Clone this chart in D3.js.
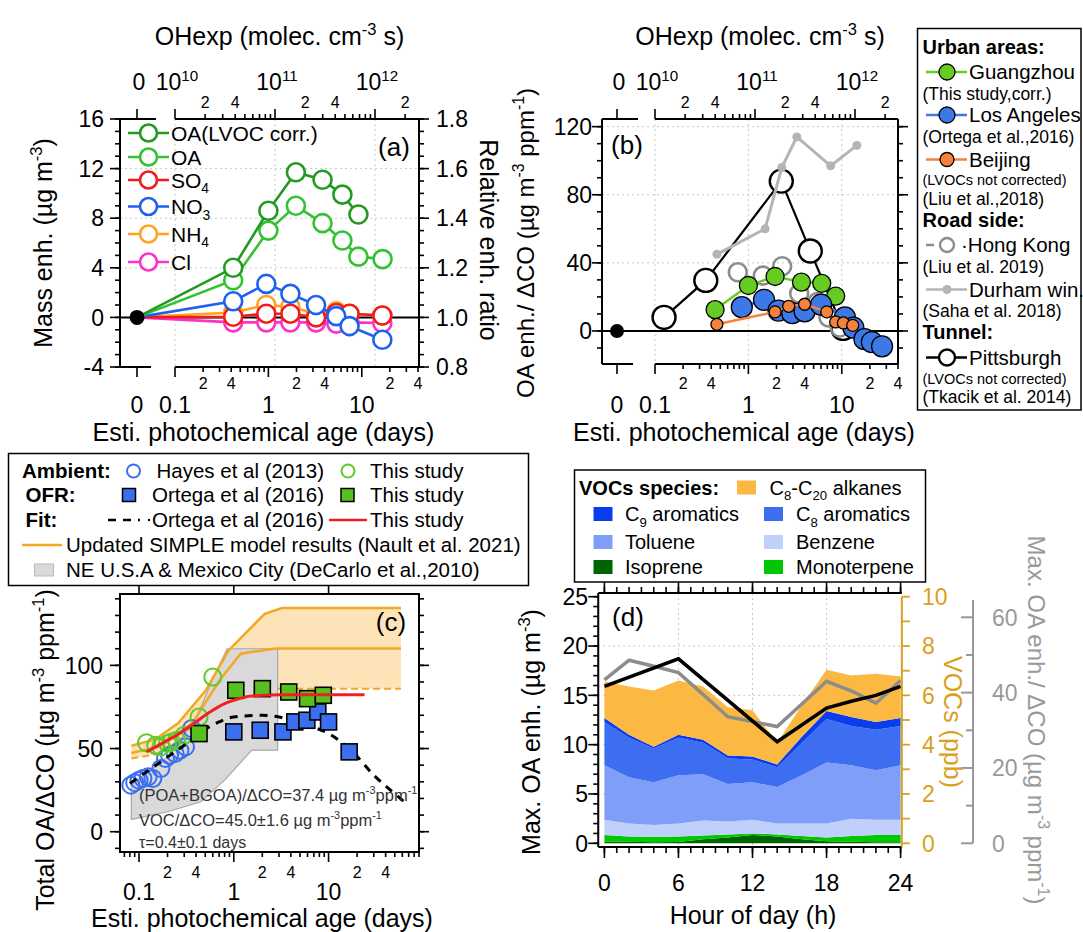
<!DOCTYPE html>
<html>
<head>
<meta charset="utf-8">
<script src="https://cdn.jsdelivr.net/npm/d3@7"></script>
<style>
  body { margin: 0; background: #fff; }
  svg { font-family: "Liberation Sans", Arial, Helvetica, sans-serif; }
</style>
</head>
<body>
<svg id="fig" width="1083" height="932"></svg>
<script>
// ---------- (a) mass enhancement vs photochemical age ----------
const oaLvocAge = [0, 0.42, 1.0, 1.97, 3.8, 6.2, 9.2];
const oaLvocEnh = [0, 4.0, 8.6, 11.7, 11.1, 9.9, 8.3];
const oaAge = [0, 0.42, 1.0, 1.97, 3.8, 6.2, 9.2, 16.7];
const oaEnh = [0, 3.0, 7.0, 9.0, 7.6, 6.2, 4.9, 4.7];
const ionAge = [0, 0.42, 0.95, 1.72, 3.24, 5.34, 7.4, 16.6];
const no3Enh = [0, 1.3, 2.7, 1.9, 1.0, 0.1, -0.7, -1.8];
const so4Enh = [0, 0.05, 0.3, 0.3, 0.0, 0.35, 0.3, 0.15];
const nh4Enh = [0, 0.4, 1.0, 0.85, 0.3, 0.5, 0.3, 0.15];
const clEnh = [0, -0.4, -0.4, -0.4, -0.4, -0.5, -0.4, -0.45];

// ---------- (b) OA enh./dCO for several sites ----------
const gzAge = [0.44, 1.0, 1.93, 3.7, 6.1, 8.6];
const gzRatio = [12.5, 26.7, 32, 28.7, 28, 20.5];
const laAge = [0.85, 1.47, 2.1, 2.95, 4.0, 6.0, 10.8, 13.3, 17.5, 21, 27];
const laRatio = [14, 18.3, 12, 10.5, 11.5, 15.5, 8, 2, -4.8, -6.5, -9];
const bjAge = [0.46, 1.93, 2.7, 4.0, 6.9, 8.6, 10.4, 13.1];
const bjRatio = [3.9, 11.2, 14.5, 15.7, 11.2, 5.3, 4.7, 3.3];
const hkAge = [0.77, 1.43, 2.3, 3.5, 5.5, 7.2, 9.5];
const hkRatio = [34.5, 32.5, 38, 22, 17, 8, 2];
const durAge = [0.46, 1.51, 2.28, 3.3, 7.6, 14.5];
const durRatio = [45, 60, 96, 114, 97, 109];
const pitAge = [0.125, 0.35, 2.25, 4.6, 10.3];
const pitRatio = [8, 29.7, 88, 47, 1.5];

// ---------- (c) total OA/dCO ----------
const hayesAge = [0.082, 0.09, 0.1, 0.11, 0.125, 0.14, 0.17, 0.19, 0.21, 0.24, 0.27, 0.31, 0.36];
const hayesRatio = [28, 29.5, 31, 32, 33, 32, 38, 44, 46, 47, 49, 51, 62];
const ambAge = [0.12, 0.15, 0.17, 0.2, 0.22, 0.25, 0.3, 0.43, 0.6];
const ambRatio = [53.5, 52, 51, 53, 54, 55, 58, 69, 93];
const ortegaAge = [1.0, 1.9, 3.3, 4.4, 5.9, 7.7, 10, 16.5];
const ortegaRatio = [60, 61, 60, 66, 67, 72, 66, 48];
const ofrAge = [0.43, 1.05, 2.0, 3.8, 6.0, 8.8];
const ofrRatio = [59, 85, 86, 84, 80, 82];
const fitAge = [0.12, 0.15, 0.2, 0.25, 0.3, 0.4, 0.5, 0.6, 0.8, 1, 1.5, 2, 3, 24];
const fitRatio = [48, 51, 55, 58, 61, 66, 70, 73, 77, 79, 81.5, 82, 82.4, 82.4];
const ortegaFitAge = [0.08, 0.12, 0.19, 0.3, 0.45, 0.7, 1, 2, 3, 5, 10, 18, 30, 45, 66];
const ortegaFitRatio = [29, 36, 44, 52, 60, 66, 69, 70, 69, 65, 59, 48, 34, 25, 17];
const simpleHighAge = [0.083, 0.146, 0.26, 0.51, 0.88, 2.12, 3.23, 58];
const simpleHigh = [51.7, 55.3, 65.3, 85.2, 109, 131, 134.5, 134.5];
const simpleMidAge = [0.083, 0.17, 0.365, 0.71, 1.18, 2.73, 58];
const simpleMid = [47.3, 51.3, 65.3, 91, 107, 110.2, 110.2];
const simpleLowAge = [0.083, 0.17, 0.35, 0.7, 1.2, 2.9, 58];
const simpleLow = [44, 47, 58, 76, 84, 86, 86];
const decarloHighAge = [0.083, 0.2, 0.4, 0.6, 0.85, 2.9];
const decarloHigh = [28, 45, 68, 92, 110, 110];
const decarloLowAge = [0.083, 0.2, 0.45, 0.8, 1.55, 2.9];
const decarloLow = [7.4, 12, 18, 31, 49, 49];

// ---------- (d) diurnal ----------
const hours = [0, 2, 4, 6, 8, 10, 12, 14, 16, 18, 20, 22, 24];
const vocSpecies = ["Isoprene", "Monoterpene", "Benzene", "Toluene", "C8 aromatics", "C9 aromatics", "C8-C20 alkanes"];
const isoprene = [0.07, 0.06, 0.04, 0.05, 0.16, 0.24, 0.34, 0.28, 0.16, 0.08, 0.06, 0.04, 0.04];
const monoterpene = [0.27, 0.22, 0.22, 0.23, 0.16, 0.12, 0.06, 0.08, 0.14, 0.16, 0.24, 0.3, 0.3];
const benzene = [0.62, 0.52, 0.48, 0.52, 0.6, 0.52, 0.56, 0.44, 0.5, 0.56, 0.7, 0.62, 0.62];
const toluene = [2.2, 1.88, 1.74, 1.96, 1.88, 1.52, 1.52, 1.48, 1.96, 2.48, 2.16, 2.0, 2.2];
const c8Arom = [1.76, 1.6, 1.36, 1.52, 1.28, 1.04, 0.92, 0.8, 1.32, 1.76, 1.6, 1.64, 1.6];
const c9Arom = [0.16, 0.12, 0.08, 0.12, 0.12, 0.12, 0.12, 0.12, 0.24, 0.32, 0.36, 0.32, 0.32];
const alkanes = [1.48, 1.96, 2.28, 2.2, 2.16, 1.96, 1.88, 0.88, 1.28, 1.68, 1.68, 1.96, 1.68];
const maxOaHours = [0, 6, 14, 18, 20, 22, 24];
const maxOaEnh = [15.9, 18.7, 10.3, 13.7, 14.4, 15.0, 15.9];
const maxOaRatio = [43.4, 48.6, 47.0, 45.3, 39.5, 33.6, 32.3, 31.0, 37.0, 43.0, 40.5, 37.2, 43.2];

// ---------- tick values ----------
const ageMajor = [0.1, 1, 10];
const ageMinorLabels = [0.2, 0.4, 2, 4, 20, 40];
const ohMajor = [1e10, 1e11, 1e12];
const ohMinorLabels = [2e10, 4e10, 2e11, 4e11, 2e12];

const svg = d3.select("#fig");
svg.append("rect").attr("width", 1083).attr("height", 932).attr("fill", "#fff");

function logMinor(lo, hi) {
  const out = [];
  for (let e = Math.floor(Math.log10(lo)); e <= Math.ceil(Math.log10(hi)); e++)
    for (let m = 2; m <= 9; m++) {
      const v = m * Math.pow(10, e);
      if (v >= lo * 0.999 && v <= hi * 1.001) out.push(v);
    }
  return out;
}

// text with sub/superscripts; y is the visual centre
function rich(g, x, y, parts, size, o = {}) {
  const t = g.append("text").attr("x", x).attr("y", y + 0.36 * size)
    .attr("font-size", size).attr("text-anchor", o.anchor || "start")
    .attr("fill", o.fill || "#000");
  if (o.bold) t.attr("font-weight", "bold");
  if (o.rotate) t.attr("transform", `rotate(${o.rotate},${x},${y})`);
  let shift = 0;
  parts.forEach(p => {
    const [s, type] = Array.isArray(p) ? p : [p, null];
    const target = type === "sup" ? -0.42 * size : type === "sub" ? 0.28 * size : 0;
    const ts = t.append("tspan").text(s);
    if (target !== shift) ts.attr("dy", target - shift);
    if (type) ts.attr("font-size", size * 0.66);
    shift = target;
  });
  return t;
}

function tickLines(g, scale, vals, orient, at, len, color = "#000", w = 1.6) {
  g.selectAll(null).data(vals).join("line")
    .attr("x1", d => orient === "left" || orient === "right" ? at : scale(d))
    .attr("x2", d => orient === "left" ? at - len : orient === "right" ? at + len : scale(d))
    .attr("y1", d => orient === "top" || orient === "bottom" ? at : scale(d))
    .attr("y2", d => orient === "top" ? at - len : orient === "bottom" ? at + len : scale(d))
    .attr("stroke", color).attr("stroke-width", w);
}

function hline(g, x1, x2, y, color = "#000", w = 2) {
  return g.append("line").attr("x1", x1).attr("x2", x2).attr("y1", y).attr("y2", y)
    .attr("stroke", color).attr("stroke-width", w);
}
function vline(g, x, y1, y2, color = "#000", w = 2) {
  return g.append("line").attr("x1", x).attr("x2", x).attr("y1", y1).attr("y2", y2)
    .attr("stroke", color).attr("stroke-width", w);
}

const supExp = v => Math.round(Math.log10(v)).toString();
const TITLE = 25;

// broken log axis (0 + log part) shared by (a) and (b)
function ageAxes(g, P, xs, ohs) {
  // top OH exposure axis
  hline(g, P.left, P.left + 36, P.top);
  hline(g, P.logL, P.right, P.top);
  vline(g, P.zeroX, P.top, P.top - 10, "#000", 1.6);
  tickLines(g, ohs, ohMajor.filter(v => ohs(v) <= P.right + 1), "top", P.top, 10);
  tickLines(g, ohs, logMinor(1e10, ohs.domain()[1]), "top", P.top, 5);
  rich(g, P.zeroX + 2, 82, ["0"], 23, {anchor: "middle"});
  ohMajor.forEach(v => rich(g, ohs(v) + 2, 82, ["10", [supExp(v), "sup"]], 23, {anchor: "middle"}));
  ohMinorLabels.filter(v => ohs(v) <= P.right + 1).forEach(v =>
    rich(g, ohs(v), 102, [String(v / Math.pow(10, Math.floor(Math.log10(v))))], 16, {anchor: "middle"}));
  // bottom age axis
  hline(g, P.left, P.left + 31, P.bottom);
  hline(g, P.logL, P.right, P.bottom);
  vline(g, P.zeroX, P.bottom, P.bottom + 10, "#000", 1.6);
  tickLines(g, xs, ageMajor, "bottom", P.bottom, 10);
  tickLines(g, xs, logMinor(0.1, xs.domain()[1]), "bottom", P.bottom, 5);
  rich(g, P.zeroX, 405, ["0"], 23, {anchor: "middle"});
  ageMajor.forEach(v => rich(g, xs(v), 405, [String(v)], 23, {anchor: "middle"}));
  ageMinorLabels.filter(v => xs(v) <= P.right + 2).forEach(v =>
    rich(g, xs(v), 383, [String(v / Math.pow(10, Math.floor(Math.log10(v))))], 16, {anchor: "middle"}));
  rich(g, (P.left + P.right) / 2 - 6, 432, ["Esti. photochemical age (days)"], TITLE, {anchor: "middle"});
  rich(g, (P.left + P.right) / 2 + 10, 36, ["OHexp (molec. cm", ["-3", "sup"], " s)"], TITLE, {anchor: "middle"});
}

// ======================= panel (a) =======================
const A = {left: 120, right: 419, top: 119, bottom: 367, zeroX: 137, logL: 175};
const xA = d3.scaleLog().domain([0.1, 41]).range([A.logL, A.right]);
const ohA = d3.scaleLog().domain([1e10, 1e10 * Math.pow(10, (A.right - A.logL) / 100)]).range([A.logL, A.right]);
const yA = d3.scaleLinear().domain([-4, 16]).range([A.bottom, A.top]);
const ratioA = d3.scaleLinear().domain([0.8, 1.8]).range([A.bottom, A.top]);
const pxA = d => d === 0 ? A.zeroX : xA(d);
const gA = svg.append("g");

[4, 8, 12].forEach(v => hline(gA, A.left, A.right, yA(v), "#c8c8c8", 1).attr("stroke-dasharray", "2,3"));
ohMajor.forEach(v => vline(gA, ohA(v), A.top, A.bottom, "#c8c8c8", 1).attr("stroke-dasharray", "2,3"));
hline(gA, A.left, A.right, yA(0), "#000", 2);

vline(gA, A.left, A.top, A.bottom);
vline(gA, A.right, A.top, A.bottom);
tickLines(gA, yA, [-4, 0, 4, 8, 12, 16], "left", A.left, 10);
tickLines(gA, yA, d3.range(-4, 17, 1), "left", A.left, 5);
tickLines(gA, ratioA, [0.8, 1.0, 1.2, 1.4, 1.6, 1.8], "right", A.right, 10);
tickLines(gA, ratioA, d3.range(0.8, 1.801, 0.05), "right", A.right, 5);
[-4, 0, 4, 8, 12, 16].forEach(v => rich(gA, 104, yA(v), [String(v)], 23, {anchor: "end"}));
[0.8, 1.0, 1.2, 1.4, 1.6, 1.8].forEach(v => rich(gA, 436, ratioA(v), [v.toFixed(1)], 23));
ageAxes(gA, A, xA, ohA);
rich(gA, 43, 243, ["Mass enh. (µg m", ["-3", "sup"], ")"], TITLE, {anchor: "middle", rotate: -90});
rich(gA, 489, 240, ["Relative enh. ratio"], TITLE, {anchor: "middle", rotate: 90});
rich(gA, 394, 147, ["(a)"], 26, {anchor: "middle"});

const seriesA = [
  {age: ionAge, val: clEnh, color: "#ff30c8"},
  {age: ionAge, val: nh4Enh, color: "#ffa41c"},
  {age: ionAge, val: so4Enh, color: "#f01c1c"},
  {age: ionAge, val: no3Enh, color: "#2060f0"},
  {age: oaAge, val: oaEnh, color: "#34c234"},
  {age: oaLvocAge, val: oaLvocEnh, color: "#229a22"}
];
seriesA.forEach(s => {
  const pts = s.age.map((a, i) => [pxA(a), yA(s.val[i])]);
  gA.append("path").attr("d", d3.line()(pts)).attr("fill", "none")
    .attr("stroke", s.color).attr("stroke-width", 2.6);
  gA.selectAll(null).data(pts.slice(1)).join("circle")
    .attr("cx", d => d[0]).attr("cy", d => d[1]).attr("r", 9)
    .attr("fill", "#fff").attr("stroke", s.color).attr("stroke-width", 2.6);
});
gA.append("circle").attr("cx", pxA(0)).attr("cy", yA(0)).attr("r", 7.5).attr("fill", "#000");

const legA = [
  {parts: ["OA(LVOC corr.)"], color: "#229a22", y: 133},
  {parts: ["OA"], color: "#34c234", y: 157},
  {parts: ["SO", ["4", "sub"]], color: "#f01c1c", y: 180},
  {parts: ["NO", ["3", "sub"]], color: "#2060f0", y: 206.5},
  {parts: ["NH", ["4", "sub"]], color: "#ffa41c", y: 234},
  {parts: ["Cl"], color: "#ff30c8", y: 262}
];
legA.forEach(l => {
  hline(gA, 128, 169, l.y, l.color, 2.6);
  gA.append("circle").attr("cx", 148.5).attr("cy", l.y).attr("r", 8.5)
    .attr("fill", "#fff").attr("stroke", l.color).attr("stroke-width", 2.6);
  rich(gA, 171, l.y, l.parts, 21);
});

// ======================= panel (b) =======================
const B = {left: 602, right: 898, top: 119, bottom: 364, zeroX: 617, logL: 655};
const xB = d3.scaleLog().domain([0.1, 40]).range([B.logL, B.right]);
const ohB = d3.scaleLog().domain([1e10, 1e10 * Math.pow(10, (B.right - B.logL) / 100)]).range([B.logL, B.right]);
const yB = d3.scaleLinear().domain([-19.4, 124.5]).range([B.bottom, B.top]);
const gB = svg.append("g");

[40, 80, 120].forEach(v => hline(gB, B.left, B.right, yB(v), "#c8c8c8", 1).attr("stroke-dasharray", "2,3"));
ageMajor.forEach(v => vline(gB, xB(v), B.top, B.bottom, "#c8c8c8", 1).attr("stroke-dasharray", "2,3"));
hline(gB, B.left, B.right, yB(0), "#000", 2);
vline(gB, B.left, B.top, B.bottom);
vline(gB, B.right, B.top, B.bottom);
tickLines(gB, yB, [0, 40, 80, 120], "left", B.left, 10);
tickLines(gB, yB, d3.range(-10, 121, 10), "left", B.left, 5);
tickLines(gB, yB, [0, 40, 80, 120], "right", B.right, 10);
tickLines(gB, yB, d3.range(-10, 121, 10), "right", B.right, 5);
[0, 40, 80, 120].forEach(v => rich(gB, 592, yB(v), [String(v)], 23, {anchor: "end"}));
ageAxes(gB, B, xB, ohB);
rich(gB, 525, 243, ["OA enh./ ΔCO (µg m", ["-3", "sup"], " ppm", ["-1", "sup"], ")"], 24, {anchor: "middle", rotate: -90});
rich(gB, 627, 145, ["(b)"], 26, {anchor: "middle"});

function seriesB(age, val, o) {
  const pts = age.map((a, i) => [xB(a), yB(val[i])]);
  if (o.line) gB.append("path").attr("d", d3.line()(pts)).attr("fill", "none")
    .attr("stroke", o.line).attr("stroke-width", o.lw || 2.5);
  gB.selectAll(null).data(pts).join("circle")
    .attr("cx", d => d[0]).attr("cy", d => d[1]).attr("r", o.r)
    .attr("fill", o.fill).attr("stroke", o.stroke || "none").attr("stroke-width", o.sw || 1.3);
}
seriesB(pitAge, pitRatio, {line: "#000", lw: 2.2, r: 11.5, fill: "#fff", stroke: "#000", sw: 2.4});
seriesB(durAge, durRatio, {line: "#b4b4b4", lw: 3, r: 4.5, fill: "#b4b4b4"});
seriesB(hkAge, hkRatio, {r: 9, fill: "none", stroke: "#8c8c8c", sw: 2.6});
seriesB(gzAge, gzRatio, {line: "#66cc22", r: 9, fill: "#66cc22", stroke: "#000"});
seriesB(laAge, laRatio, {line: "#3c78e6", r: 10.5, fill: "#3c78e6", stroke: "#000"});
seriesB(bjAge, bjRatio, {line: "#f4823c", r: 6, fill: "#f4823c", stroke: "#000"});
gB.append("circle").attr("cx", B.zeroX).attr("cy", yB(0)).attr("r", 7).attr("fill", "#000");

// legend (b)
const gLB = svg.append("g");
gLB.append("rect").attr("x", 917.5).attr("y", 28.5).attr("width", 163.5).attr("height", 381.5)
  .attr("fill", "#fff").attr("stroke", "#000").attr("stroke-width", 1.5);
const legB = [
  {t: "Urban areas:", y: 47, bold: true},
  {t: "Guangzhou", y: 72, mark: {line: "#66cc22", r: 8, fill: "#66cc22", stroke: "#000"}},
  {t: "(This study,corr.)", y: 93.5, small: 17.5},
  {t: "Los Angeles", y: 115, mark: {line: "#3c78e6", r: 8, fill: "#3c78e6", stroke: "#000"}},
  {t: "(Ortega et al.,2016)", y: 137, small: 17.5},
  {t: "Beijing", y: 159.5, mark: {line: "#f4823c", r: 7, fill: "#f4823c", stroke: "#000"}},
  {t: "(LVOCs not corrected)", y: 180, small: 14.5},
  {t: "(Liu et al.,2018)", y: 198.5, small: 17.5},
  {t: "Road side:", y: 220, bold: true},
  {t: "·Hong Kong", y: 245, mark: {dash: "#8c8c8c", r: 7, fill: "none", stroke: "#8c8c8c", sw: 2.4}},
  {t: "(Liu et al. 2019)", y: 267, small: 17.5},
  {t: "Durham win.", y: 289.5, mark: {line: "#b4b4b4", r: 4.5, fill: "#b4b4b4"}},
  {t: "(Saha et al. 2018)", y: 311, small: 17.5},
  {t: "Tunnel:", y: 332, bold: true},
  {t: "Pittsburgh", y: 357.5, mark: {line: "#000", r: 8, fill: "#fff", stroke: "#000", sw: 2.4}},
  {t: "(LVOCs not corrected)", y: 378.5, small: 14.5},
  {t: "(Tkacik et al. 2014)", y: 397, small: 17.5}
];
legB.forEach(l => {
  if (l.mark) {
    const m = l.mark;
    if (m.line) hline(gLB, 926, 967, l.y, m.line, 2.5);
    if (m.dash) hline(gLB, 926, 934, l.y, m.dash, 2.5);
    gLB.append("circle").attr("cx", 947).attr("cy", l.y).attr("r", m.r)
      .attr("fill", m.fill).attr("stroke", m.stroke || "none").attr("stroke-width", m.sw || 1.3);
    rich(gLB, l.t[0] === "·" ? 961 : 969, l.y, [l.t], 20.5);
  } else if (l.bold) {
    rich(gLB, 922.5, l.y, [l.t], 20, {bold: true});
  } else {
    rich(gLB, 922.5, l.y, [l.t], l.small);
  }
});

// ======================= panel (c) =======================
const C = {left: 120, right: 419, top: 594, bottom: 852};
const xC = d3.scaleLog().domain([0.063, 90]).range([C.left, C.right]);
const yC = d3.scaleLinear().domain([-12.2, 142.9]).range([C.bottom, C.top]);
const gC = svg.append("g");
const clipC = gC.append("clipPath").attr("id", "clipC");
clipC.append("rect").attr("x", C.left).attr("y", C.top).attr("width", C.right - C.left).attr("height", C.bottom - C.top);
const plotC = gC.append("g").attr("clip-path", "url(#clipC)");
const lineC = d3.line().x(d => xC(d[0])).y(d => yC(d[1]));
const zip = (a, b) => a.map((v, i) => [v, b[i]]);

// SIMPLE band
const simpleBand = zip(simpleHighAge, simpleHigh).concat(zip(simpleLowAge, simpleLow).reverse());
plotC.append("path").attr("d", lineC(simpleBand) + "Z").attr("fill", "#fde4b8").attr("stroke", "none");
plotC.append("path").attr("d", lineC(zip(simpleLowAge, simpleLow))).attr("fill", "none")
  .attr("stroke", "#f5a623").attr("stroke-width", 2).attr("stroke-dasharray", "7,4");
// DeCarlo range
const decarloBand = zip(decarloHighAge, decarloHigh).concat(zip(decarloLowAge, decarloLow).reverse());
plotC.append("path").attr("d", lineC(decarloBand) + "Z").attr("fill", "#d9d9d9")
  .attr("stroke", "#a8a8a8").attr("stroke-width", 1.2);
plotC.append("path").attr("d", lineC(zip(simpleHighAge, simpleHigh))).attr("fill", "none")
  .attr("stroke", "#f5a623").attr("stroke-width", 2.5);
plotC.append("path").attr("d", lineC(zip(simpleMidAge, simpleMid))).attr("fill", "none")
  .attr("stroke", "#f5a623").attr("stroke-width", 2.5);

plotC.selectAll(null).data(zip(hayesAge, hayesRatio)).join("circle")
  .attr("cx", d => xC(d[0])).attr("cy", d => yC(d[1])).attr("r", 8.5)
  .attr("fill", "none").attr("stroke", "#3c6ef0").attr("stroke-width", 2);
plotC.selectAll(null).data(zip(ambAge, ambRatio)).join("circle")
  .attr("cx", d => xC(d[0])).attr("cy", d => yC(d[1])).attr("r", 8.5)
  .attr("fill", "none").attr("stroke", "#5ccc2a").attr("stroke-width", 2);
plotC.append("path").attr("d", d3.line().curve(d3.curveMonotoneX).x(d => xC(d[0])).y(d => yC(d[1]))(zip(ortegaFitAge, ortegaFitRatio)))
  .attr("fill", "none").attr("stroke", "#000").attr("stroke-width", 3).attr("stroke-dasharray", "8,7");
plotC.selectAll(null).data(zip(ortegaAge, ortegaRatio)).join("rect")
  .attr("x", d => xC(d[0]) - 8).attr("y", d => yC(d[1]) - 8).attr("width", 16).attr("height", 16)
  .attr("fill", "#3c6ef0").attr("stroke", "#000").attr("stroke-width", 1.6);
plotC.selectAll(null).data(zip(ofrAge, ofrRatio)).join("rect")
  .attr("x", d => xC(d[0]) - 8).attr("y", d => yC(d[1]) - 8).attr("width", 16).attr("height", 16)
  .attr("fill", "#58c01e").attr("stroke", "#000").attr("stroke-width", 1.6);
plotC.append("path").attr("d", d3.line().curve(d3.curveMonotoneX).x(d => xC(d[0])).y(d => yC(d[1]))(zip(fitAge, fitRatio)))
  .attr("fill", "none").attr("stroke", "#f02020").attr("stroke-width", 3);

gC.append("rect").attr("x", C.left).attr("y", C.top).attr("width", C.right - C.left).attr("height", C.bottom - C.top)
  .attr("fill", "none").attr("stroke", "#000").attr("stroke-width", 2);
tickLines(gC, yC, [0, 50, 100], "left", C.left, 10);
tickLines(gC, yC, d3.range(-10, 141, 10), "left", C.left, 5);
tickLines(gC, yC, [0, 50, 100], "right", C.right, 10);
tickLines(gC, yC, d3.range(-10, 141, 10), "right", C.right, 5);
tickLines(gC, xC, ageMajor, "bottom", C.bottom, 10);
tickLines(gC, xC, logMinor(0.065, 90), "bottom", C.bottom, 5);
tickLines(gC, xC, ageMajor, "top", C.top, 9);
[0, 50, 100].forEach(v => rich(gC, 103, yC(v), [String(v)], 23, {anchor: "end"}));
ageMajor.forEach(v => rich(gC, xC(v), 892, [String(v)], 23, {anchor: "middle"}));
ageMinorLabels.forEach(v =>
  rich(gC, xC(v), 872, [String(v / Math.pow(10, Math.floor(Math.log10(v))))], 16, {anchor: "middle"}));
rich(gC, 262, 918, ["Esti. photochemical age (days)"], TITLE, {anchor: "middle"});
rich(gC, 45, 750, ["Total OA/ΔCO (µg m", ["-3", "sup"], " ppm", ["-1", "sup"], ")"], TITLE, {anchor: "middle", rotate: -90});
rich(gC, 391, 622, ["(c)"], 26, {anchor: "middle"});
rich(gC, 139, 795, ["(POA+BGOA)/ΔCO=37.4 µg m", ["-3", "sup"], "ppm", ["-1", "sup"]], 16.5, {fill: "#333"});
rich(gC, 139, 820, ["VOC/ΔCO=45.0±1.6 µg m", ["-3", "sup"], "ppm", ["-1", "sup"]], 16.5, {fill: "#333"});
rich(gC, 139, 842, ["τ=0.4±0.1 days"], 16, {fill: "#333"});

// legend (c)
const gLC = svg.append("g");
gLC.append("rect").attr("x", 8.5).attr("y", 453.5).attr("width", 520).attr("height", 132)
  .attr("fill", "#fff").attr("stroke", "#000").attr("stroke-width", 1.5);
const fsC = 20.5;
rich(gLC, 22, 471, ["Ambient:"], fsC, {bold: true});
gLC.append("circle").attr("cx", 133.5).attr("cy", 471).attr("r", 6.5).attr("fill", "none").attr("stroke", "#3c6ef0").attr("stroke-width", 2);
rich(gLC, 156.5, 471, ["Hayes et al (2013)"], fsC);
gLC.append("circle").attr("cx", 348).attr("cy", 471).attr("r", 6.5).attr("fill", "none").attr("stroke", "#5ccc2a").attr("stroke-width", 2);
rich(gLC, 370, 471, ["This study"], fsC);
rich(gLC, 25.5, 495, ["OFR:"], fsC, {bold: true});
gLC.append("rect").attr("x", 122.5).attr("y", 488.5).attr("width", 13).attr("height", 13).attr("fill", "#3c6ef0").attr("stroke", "#000").attr("stroke-width", 1.5);
rich(gLC, 152, 495, ["Ortega et al (2016)"], fsC);
gLC.append("rect").attr("x", 341).attr("y", 488.5).attr("width", 13).attr("height", 13).attr("fill", "#58c01e").attr("stroke", "#000").attr("stroke-width", 1.5);
rich(gLC, 370, 495, ["This study"], fsC);
rich(gLC, 25.5, 520, ["Fit:"], fsC, {bold: true});
hline(gLC, 108, 140, 520, "#000", 2.5).attr("stroke-dasharray", "8,7");
gLC.append("circle").attr("cx", 149).attr("cy", 520).attr("r", 1.2).attr("fill", "#000");
rich(gLC, 152, 520, ["Ortega et al (2016)"], fsC);
hline(gLC, 329, 367, 520, "#f02020", 2.5);
rich(gLC, 370, 520, ["This study"], fsC);
hline(gLC, 22, 62, 545, "#f5a623", 2.5);
rich(gLC, 66, 545, ["Updated SIMPLE model results (Nault et al. 2021)"], fsC);
gLC.append("rect").attr("x", 34.5).attr("y", 564).attr("width", 19).attr("height", 12).attr("fill", "#d9d9d9").attr("stroke", "#bbb");
rich(gLC, 66, 570, ["NE U.S.A & Mexico City (DeCarlo et al.,2010)"], fsC);

// ======================= panel (d) =======================
const D = {top: 593, bottom: 847};
const xD = d3.scaleLinear().domain([0, 24]).range([604.4, 900.6]);
const yD = d3.scaleLinear().domain([0, 25]).range([843.3, 596.7]);
const vocD = d3.scaleLinear().domain([0, 10]).range([843.3, 596.7]);
const grayD = d3.scaleLinear().domain([0, 60]).range([843.3, 617.3]);
const DL = xD(-0.5), DR = xD(24.1);
const gD = svg.append("g");

[5, 10, 15, 20].forEach(v => hline(gD, DL, DR, yD(v), "#c8c8c8", 1).attr("stroke-dasharray", "2,3"));
[6, 12, 18].forEach(v => vline(gD, xD(v), D.top, D.bottom, "#c8c8c8", 1).attr("stroke-dasharray", "2,3"));

const vocTable = hours.map((h, i) => ({
  hour: h, "Isoprene": isoprene[i], "Monoterpene": monoterpene[i], "Benzene": benzene[i],
  "Toluene": toluene[i], "C8 aromatics": c8Arom[i], "C9 aromatics": c9Arom[i], "C8-C20 alkanes": alkanes[i]
}));
const vocColor = d3.scaleOrdinal().domain(vocSpecies)
  .range(["#006400", "#00c800", "#c0d0fb", "#7e9ef8", "#3d6ef2", "#0a3cf0", "#fbb843"]);
const stacked = d3.stack().keys(vocSpecies)(vocTable);
const areaD = d3.area().x(d => xD(d.data.hour)).y0(d => vocD(d[0])).y1(d => vocD(d[1]));
gD.selectAll(null).data(stacked).join("path")
  .attr("d", areaD).attr("fill", d => vocColor(d.key));

gD.append("path").attr("d", d3.line()(hours.map((h, i) => [xD(h), grayD(maxOaRatio[i])])))
  .attr("fill", "none").attr("stroke", "#8c8c8c").attr("stroke-width", 3.5);
gD.append("path").attr("d", d3.line()(maxOaHours.map((h, i) => [xD(h), yD(maxOaEnh[i])])))
  .attr("fill", "none").attr("stroke", "#000").attr("stroke-width", 3.5);

// frame + axes
vline(gD, DL, D.top, D.bottom);
hline(gD, DL, DR, D.top);
hline(gD, DL, DR, D.bottom);
vline(gD, DR, 596.7, D.bottom, "#d9a01e", 2);
const hourTicks = d3.range(0, 25, 1);
tickLines(gD, xD, [0, 6, 12, 18, 24], "bottom", D.bottom, 11);
tickLines(gD, xD, hourTicks, "bottom", D.bottom, 6);
tickLines(gD, xD, [0, 6, 12, 18, 24], "top", D.top, 11);
tickLines(gD, xD, hourTicks, "top", D.top, 6);
tickLines(gD, yD, [0, 5, 10, 15, 20, 25], "left", DL, 10);
tickLines(gD, yD, d3.range(0, 26, 1), "left", DL, 5);
tickLines(gD, vocD, d3.range(0, 11, 1), "right", DR, 8, "#d9a01e", 1.8);
vline(gD, 973, grayD(0), 600, "#999", 2);
tickLines(gD, grayD, [0, 20, 40, 60], "left", 973, 12, "#999", 2);
tickLines(gD, grayD, [10, 30, 50], "left", 973, 7, "#999", 2);
[0, 5, 10, 15, 20, 25].forEach(v => rich(gD, 588, yD(v), [String(v)], 23, {anchor: "end"}));
[0, 6, 12, 18, 24].forEach(v => rich(gD, xD(v), 883, [String(v)], 23, {anchor: "middle"}));
[0, 2, 4, 6, 8, 10].forEach(v => rich(gD, 922, vocD(v), [String(v)], 23, {fill: "#d9a01e"}));
[0, 20, 40, 60].forEach(v => rich(gD, 992, grayD(v), [String(v)], 23, {fill: "#999"}));
rich(gD, 753, 915, ["Hour of day (h)"], TITLE, {anchor: "middle"});
rich(gD, 531, 732, ["Max. OA enh. (µg m", ["-3", "sup"], ")"], TITLE, {anchor: "middle", rotate: -90});
rich(gD, 953, 722, ["VOCs (ppb)"], TITLE, {anchor: "middle", rotate: 90, fill: "#d9a01e"});
rich(gD, 1037, 720, ["Max. OA enh./ ΔCO (µg m", ["-3", "sup"], " ppm", ["-1", "sup"], ")"], 24, {anchor: "middle", rotate: 90, fill: "#999"});
rich(gD, 628, 617, ["(d)"], 26, {anchor: "middle"});

// legend (d)
const gLD = svg.append("g");
gLD.append("rect").attr("x", 574.5).attr("y", 470).attr("width", 351).attr("height", 112)
  .attr("fill", "#fff").attr("stroke", "#000").attr("stroke-width", 1.5);
rich(gLD, 579, 487.5, ["VOCs species:"], 20, {bold: true});
const legD = [
  {key: "C8-C20 alkanes", parts: ["C", ["8", "sub"], "-C", ["20", "sub"], " alkanes"], sx: 737, tx: 769.5, y: 487.5},
  {key: "C9 aromatics", parts: ["C", ["9", "sub"], " aromatics"], sx: 593.5, tx: 625, y: 514},
  {key: "C8 aromatics", parts: ["C", ["8", "sub"], " aromatics"], sx: 764, tx: 796, y: 514},
  {key: "Toluene", parts: ["Toluene"], sx: 593.5, tx: 625, y: 542},
  {key: "Benzene", parts: ["Benzene"], sx: 764, tx: 796, y: 542},
  {key: "Isoprene", parts: ["Isoprene"], sx: 593.5, tx: 625, y: 567},
  {key: "Monoterpene", parts: ["Monoterpene"], sx: 764, tx: 796, y: 567}
];
legD.forEach(l => {
  gLD.append("rect").attr("x", l.sx).attr("y", l.y - 7).attr("width", 19).attr("height", 14)
    .attr("fill", vocColor(l.key));
  rich(gLD, l.tx, l.y, l.parts, 20);
});
</script>
</body>
</html>
